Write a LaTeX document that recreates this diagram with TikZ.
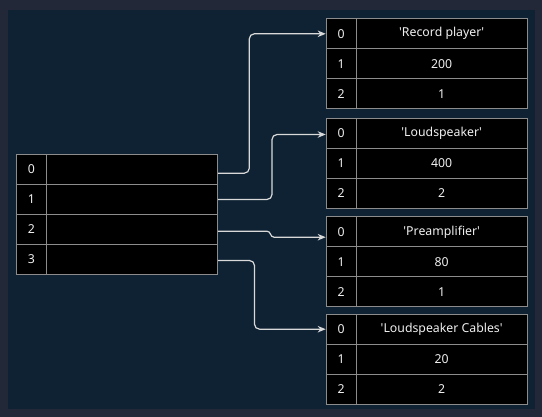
\documentclass[tikz,border=0pt]{standalone}
\usepackage{fontspec}
\setmainfont{Noto Sans}
\usetikzlibrary{arrows.meta,calc}
\definecolor{outerbg}{HTML}{232838}
\definecolor{innerbg}{HTML}{0E2233}
\definecolor{cellline}{HTML}{8C8C8C}
\definecolor{conncol}{HTML}{D9D9D9}
\definecolor{txtcol}{HTML}{F0F0F0}
\newcommand\q{\textquotesingle}
\newcommand\rtab[5]{%
  \node[idxcell] (#1i0) at (325.7,#2) {0};
  \node[valcell] (#1v0) at (355.7,#2) {#3};
  \node[idxcell] (#1i1) at (325.7,{#2+30}) {1};
  \node[valcell] (#1v1) at (355.7,{#2+30}) {#4};
  \node[idxcell] (#1i2) at (325.7,{#2+60}) {2};
  \node[valcell] (#1v2) at (355.7,{#2+60}) {#5};
}
\begin{document}
\begin{tikzpicture}[x=1pt,y=-1pt,
  cell/.style={draw=cellline, fill=black, line width=1pt, inner sep=0pt,
    minimum height=30pt, anchor=north west, text=txtcol,
    font=\fontsize{12.3}{14}\selectfont},
  idxcell/.style={cell, minimum width=30pt},
  valcell/.style={cell, minimum width=171pt},
  conn/.style={draw=conncol, line width=1.2pt, rounded corners=5pt,
    -{Stealth[length=8pt,width=6.5pt]}}]
\fill[outerbg] (0,0) rectangle (542,417);
\fill[innerbg] (8,10) rectangle (535.3,409.3);
\useasboundingbox (0,0) rectangle (542,417);

\foreach \i in {0,...,3} {
  \node[idxcell] (mi\i) at (16,{154+30*\i}) {\i};
  \node[valcell] (mv\i) at (46,{154+30*\i}) {};
}

\rtab{a}{18.3}{\q Record player\q}{200}{1}
\rtab{b}{117.7}{\q Loudspeaker\q}{400}{2}
\rtab{c}{216.3}{\q Preamplifier\q}{80}{1}
\rtab{d}{313.7}{\q Loudspeaker Cables\q}{20}{2}

\coordinate (k1) at (249.3,0);
\coordinate (k2) at (272,0);
\coordinate (k4) at (254.5,0);

\draw[conn] ([yshift=-3.7pt]mv0.east) -| (k1 |- ai0.west) -- (ai0.west);
\draw[conn] ([yshift=0pt]mv1.east) -| ([yshift=-1.3pt]k2 |- bi0.west) -- ([yshift=-1.3pt]bi0.west);
\draw[conn, rounded corners=0pt] ([yshift=-1.7pt]mv2.east) -- ++(49,0)
  .. controls +(4,0) and +(-4,0) .. ++(7,6) -- ([yshift=-5.4pt]ci0.west);
\draw[conn] ([yshift=-1pt]mv3.east) -| (k4 |- di0.west) -- (di0.west);
\end{tikzpicture}
\end{document}
